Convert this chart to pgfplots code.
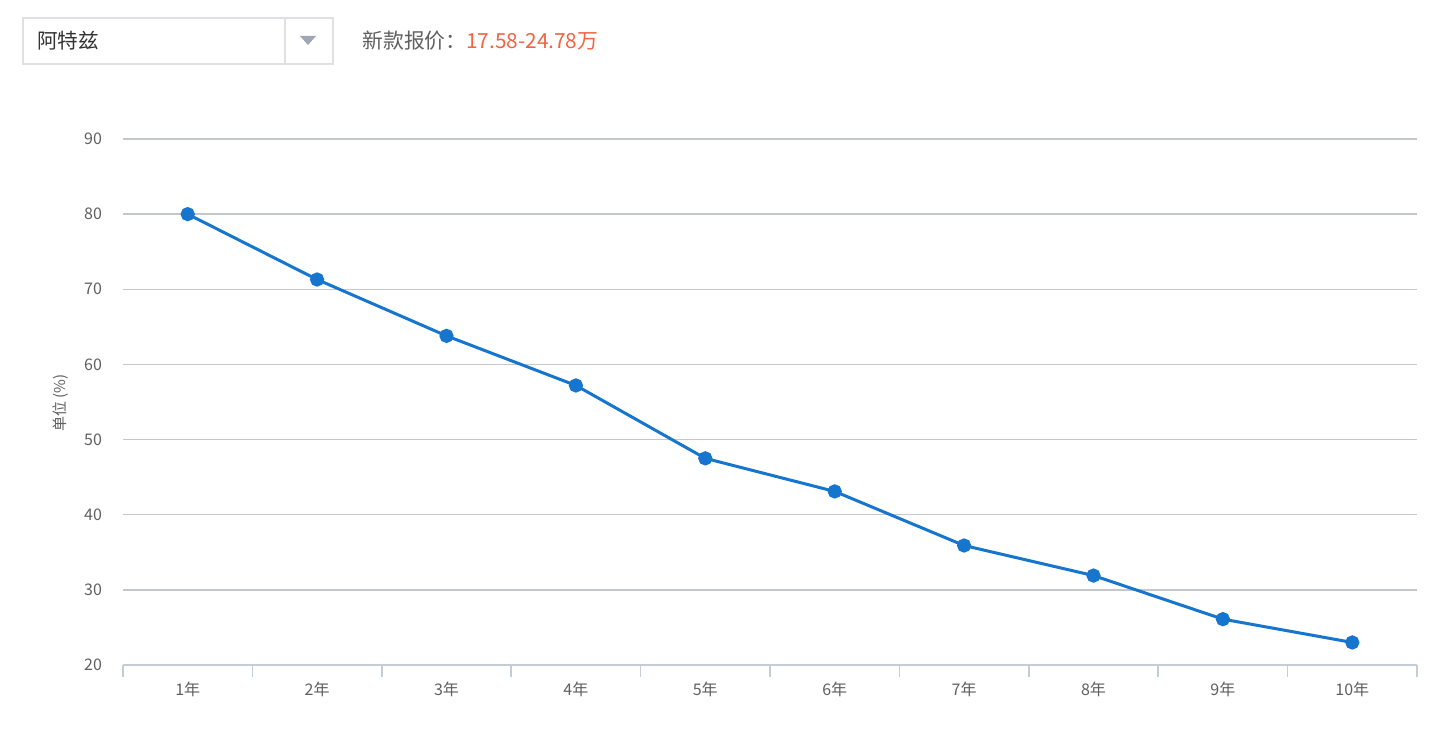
\documentclass[border=0pt]{standalone}
\usepackage{pgfplots}
\pgfplotsset{compat=1.18}
\usepackage{fontspec}
\setmainfont{Noto Sans CJK SC}

\definecolor{linecol}{RGB}{22,118,206}
\definecolor{gridcol}{RGB}{196,200,206}
\definecolor{axiscol}{RGB}{196,204,214}
\definecolor{labelcol}{RGB}{96,96,96}
\definecolor{boxcol}{RGB}{222,224,228}
\definecolor{tricol}{RGB}{160,166,182}
\definecolor{pricecol}{RGB}{240,100,66}

\begin{document}
\begin{tikzpicture}[x=0.5pt,y=0.5pt]
% page frame, 1 px = 0.5pt
\path[fill=white] (0,0) rectangle (1453,731);

% header: select box and price
\draw[boxcol,line width=1pt] (23,731-18) rectangle (333,731-64);
\draw[boxcol,line width=1pt] (285,731-18) -- (285,731-64);
\fill[tricol] (300,731-36) -- (316,731-36) -- (308,731-45) -- cycle;
\node[anchor=west,inner sep=0,font=\fontsize{10.3}{12}\selectfont,text=black!80] at (37,731-41) {阿特兹};
\node[anchor=west,inner sep=0,font=\fontsize{10.4}{12}\selectfont] at (362,731-41)
  {\textcolor{labelcol}{新款报价：}\textcolor{pricecol}{17.58-24.78万}};

% y label
\node[rotate=90,inner sep=0,font=\fontsize{7.5}{9}\selectfont,text=labelcol] at (61,731-403) {单位 (\%)};

\begin{axis}[
  at={(61.5pt,33pt)}, anchor=south west,
  scale only axis,
  width=647pt, height=263pt,
  xmin=0.5, xmax=10.5,
  ymin=20, ymax=90,
  axis x line*=bottom,
  axis y line*=left,
  y axis line style={draw=none},
  x axis line style={axiscol,line width=1pt},
  ytick={20,30,...,90},
  xtick={1,...,10},
  xticklabels={1年,2年,3年,4年,5年,6年,7年,8年,9年,10年},
  minor xtick={0.5,1.5,...,10.5},
  major tick length=0pt,
  minor tick length=6pt,
  tick align=outside,
  minor x tick style={axiscol,line width=0.8pt},
  ymajorgrids,
  major grid style={gridcol,line width=0.7pt},
  /pgf/number format/assume math mode=true,
  tick label style={font=\fontsize{8}{10}\selectfont,text=labelcol},
  yticklabel style={xshift=-7pt},
  xticklabel style={yshift=-5pt},
  clip=false,
]
\addplot[linecol,line width=1.5pt,mark=*,mark size=2.8pt,mark options={fill=linecol,draw=linecol}]
coordinates{
  (1,80.0) (2,71.3) (3,63.8) (4,57.2) (5,47.5)
  (6,43.1) (7,35.9) (8,31.9) (9,26.1) (10,23.0)
};
\end{axis}
\end{tikzpicture}
\end{document}
